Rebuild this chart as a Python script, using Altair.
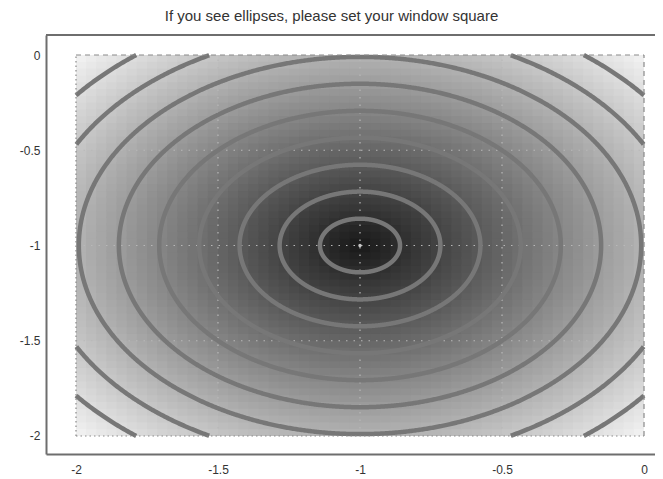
import numpy as np
import pandas as pd
import altair as alt

TITLE = "If you see ellipses, please set your window square"
CENTER = [-1.0, -1.0]
X_TICKS = [-2, -1.5, -1, -0.5, 0]
Y_TICKS = [0, -0.5, -1, -1.5, -2]
DATA_X = [-2.0, 0.0]
DATA_Y = [-2.0, 0.0]
CONTOUR_RADII = [0.141, 0.283, 0.424, 0.566, 0.707, 0.849, 0.990, 1.131, 1.273]
GRID_N = 56
GRAY_RANGE = ["#181818", "#f4f4f4"]

# scale domains (frame slightly larger than data region)
XDOM = [-2.1056, 0.0387]
YDOM = [-2.0945, 0.105]
W, H = 609, 419

# heatmap cells
xs_edges = np.linspace(DATA_X[0], DATA_X[1], GRID_N + 1)
ys_edges = np.linspace(DATA_Y[0], DATA_Y[1], GRID_N + 1)
rows = []
eps = 0.01
for i in range(GRID_N):
    for j in range(GRID_N):
        cx = 0.5 * (xs_edges[i] + xs_edges[i + 1])
        cy = 0.5 * (ys_edges[j] + ys_edges[j + 1])
        r = float(np.hypot(cx - CENTER[0], cy - CENTER[1]))
        rows.append(dict(x0=xs_edges[i], x1=min(xs_edges[i + 1] + eps, DATA_X[1]),
                         y0=ys_edges[j], y1=min(ys_edges[j + 1] + eps, DATA_Y[1]), v=r))
heat = pd.DataFrame(rows)

# contour arcs
crow = []
seg_id = 0
for r in CONTOUR_RADII:
    th = np.linspace(0, 2 * np.pi, 1441)
    px = CENTER[0] + r * np.cos(th)
    py = CENTER[1] + r * np.sin(th)
    inside = (px >= DATA_X[0]) & (px <= DATA_X[1]) & (py >= DATA_Y[0]) & (py <= DATA_Y[1])
    prev = False
    k = 0
    for a, b, ins in zip(px, py, inside):
        if ins:
            if not prev:
                seg_id += 1
                k = 0
            crow.append(dict(x=a, y=b, seg=f"s{seg_id}", o=k))
            k += 1
        prev = ins
cont = pd.DataFrame(crow)

xs = alt.Scale(domain=XDOM, nice=False, zero=False)
ys = alt.Scale(domain=YDOM, nice=False, zero=False)

xaxis = alt.Axis(values=X_TICKS, labelExpr="'' + datum.value", ticks=False, grid=False,
                 domain=True, domainColor="#6e6e6e", domainWidth=2, labelPadding=10,
                 labelFontSize=12, labelColor="#333333", labelFont="Liberation Sans", title=None)
yaxis = alt.Axis(values=Y_TICKS, labelExpr="'' + datum.value", ticks=False, grid=False,
                 domain=True, domainColor="#6e6e6e", domainWidth=2, labelPadding=6,
                 labelFontSize=12, labelColor="#333333", labelFont="Liberation Sans", title=None)

heat_layer = alt.Chart(heat).mark_rect(strokeWidth=0).encode(
    x=alt.X("x0:Q", scale=xs, axis=xaxis),
    x2="x1:Q",
    y=alt.Y("y0:Q", scale=ys, axis=yaxis),
    y2="y1:Q",
    color=alt.Color("v:Q", scale=alt.Scale(domain=[0, 1.4142], range=GRAY_RANGE, interpolate="rgb"), legend=None),
)

# inner grid lines (dotted)
vgrid = pd.DataFrame({"x": [-1.5, -1.0, -0.5], "y0": [DATA_Y[0]] * 3, "y1": [DATA_Y[1]] * 3})
hgrid = pd.DataFrame({"y": [-0.5, -1.0, -1.5], "x0": [DATA_X[0]] * 3, "x1": [DATA_X[1]] * 3})
vg = alt.Chart(vgrid).mark_rule(color="#b8b8b8", strokeDash=[1.5, 6], strokeWidth=1.2).encode(
    x=alt.X("x:Q", scale=xs), y=alt.Y("y0:Q", scale=ys), y2="y1:Q")
hg = alt.Chart(hgrid).mark_rule(color="#b8b8b8", strokeDash=[1.5, 6], strokeWidth=1.2).encode(
    y=alt.Y("y:Q", scale=ys), x=alt.X("x0:Q", scale=xs), x2="x1:Q")

contours = alt.Chart(cont).mark_line(color="#777777", strokeWidth=4.5, strokeCap="butt").encode(
    x=alt.X("x:Q", scale=xs), y=alt.Y("y:Q", scale=ys), detail="seg:N", order="o:Q")

# data-region border: left/bottom dotted, top/right dashed
left_b = pd.DataFrame({"x": [DATA_X[0]], "y0": [DATA_Y[0]], "y1": [DATA_Y[1]]})
right_b = pd.DataFrame({"x": [DATA_X[1]], "y0": [DATA_Y[0]], "y1": [DATA_Y[1]]})
bot_b = pd.DataFrame({"y": [DATA_Y[0]], "x0": [DATA_X[0]], "x1": [DATA_X[1]]})
top_b = pd.DataFrame({"y": [DATA_Y[1]], "x0": [DATA_X[0]], "x1": [DATA_X[1]]})
lb = alt.Chart(left_b).mark_rule(color="#8a8a8a", strokeDash=[1.5, 3], strokeWidth=1.2).encode(
    x=alt.X("x:Q", scale=xs), y=alt.Y("y0:Q", scale=ys), y2="y1:Q")
rb = alt.Chart(right_b).mark_rule(color="#8a8a8a", strokeDash=[5, 4], strokeWidth=1.2).encode(
    x=alt.X("x:Q", scale=xs), y=alt.Y("y0:Q", scale=ys), y2="y1:Q")
bb = alt.Chart(bot_b).mark_rule(color="#8a8a8a", strokeDash=[1.5, 3], strokeWidth=1.2).encode(
    y=alt.Y("y:Q", scale=ys), x=alt.X("x0:Q", scale=xs), x2="x1:Q")
tb = alt.Chart(top_b).mark_rule(color="#8a8a8a", strokeDash=[5, 4], strokeWidth=1.2).encode(
    y=alt.Y("y:Q", scale=ys), x=alt.X("x0:Q", scale=xs), x2="x1:Q")

center_pt = alt.Chart(pd.DataFrame({"x": [CENTER[0]], "y": [CENTER[1]]})).mark_point(
    filled=True, color="#c8c8c8", size=12, opacity=1).encode(
    x=alt.X("x:Q", scale=xs), y=alt.Y("y:Q", scale=ys))

top_frame = alt.Chart(pd.DataFrame({"a": [0]})).mark_rule(color="#6e6e6e", strokeWidth=2).encode(
    y=alt.value(0), x=alt.value(0), x2=alt.value(W))

chart = alt.layer(heat_layer, vg, hg, contours, lb, rb, bb, tb, center_pt, top_frame).properties(
    width=W, height=H,
    title=alt.Title(TITLE, fontSize=15, font="Liberation Sans", fontWeight="normal", color="#333333",
                    anchor="middle", frame="group", dx=-19, offset=10),
    autosize=alt.AutoSizeParams(type="none"),
    padding={"left": 38, "top": 27, "right": 0, "bottom": 24},
).configure_view(stroke=None)

chart.save("out.html", embed_options={"renderer": "svg", "actions": False})
